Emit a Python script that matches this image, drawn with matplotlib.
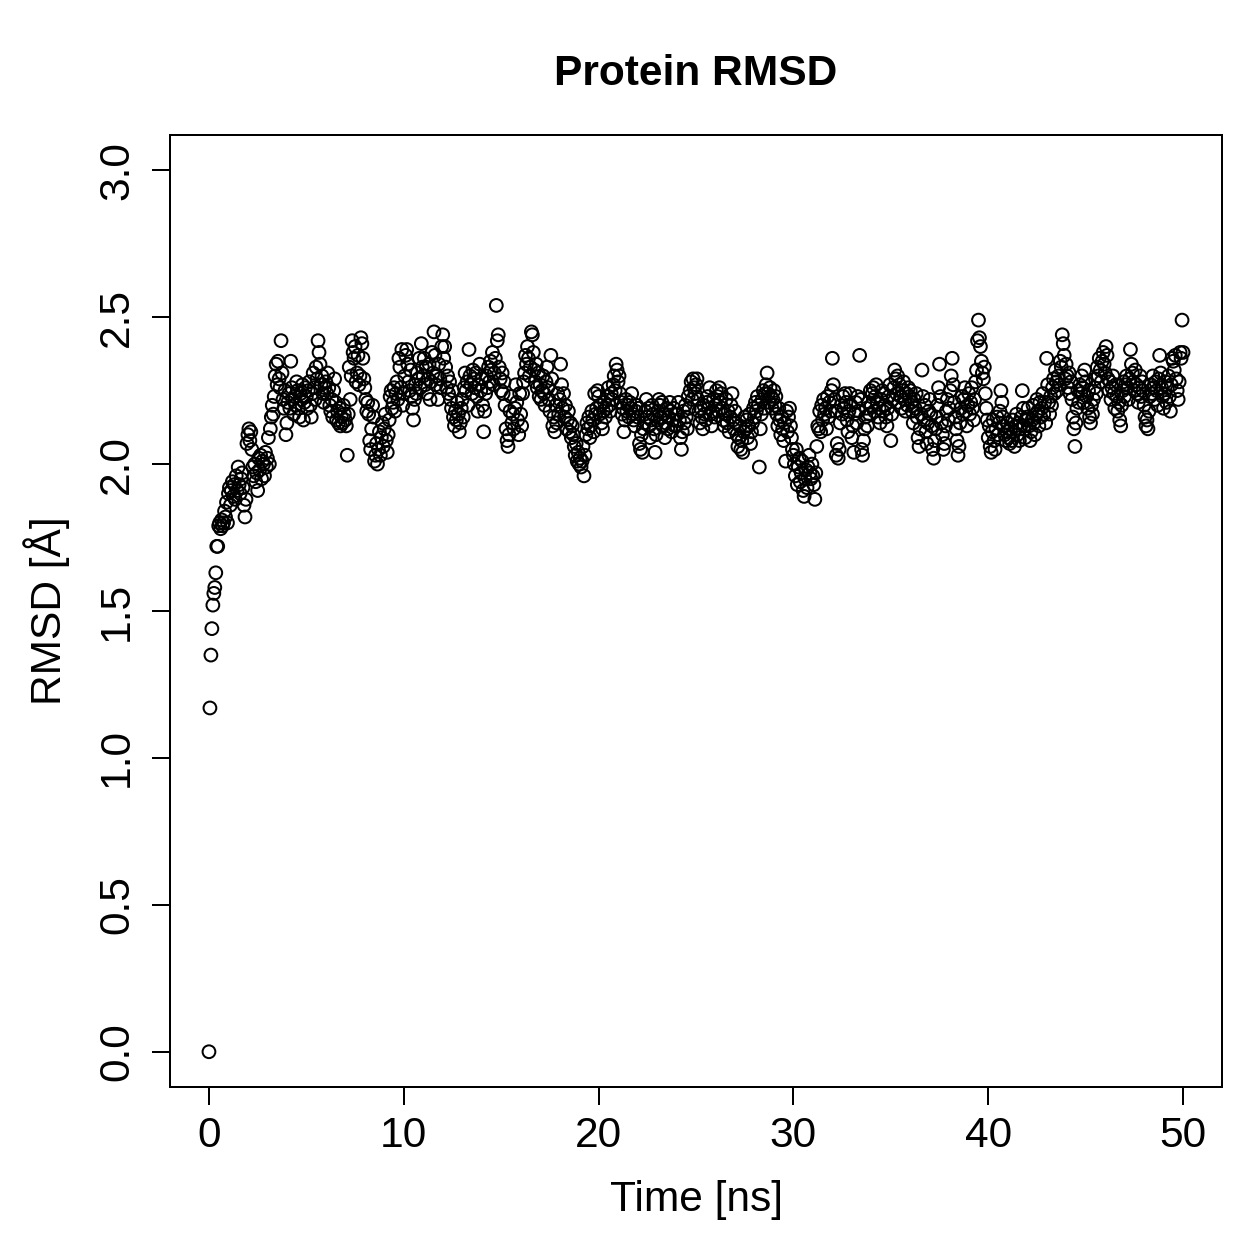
import numpy as np
import matplotlib
matplotlib.use("Agg")
import matplotlib.pyplot as plt

# RMSD values, 20 frames per ns (0.05 ns step)
rmsd_0_10 = [
    [0.00, 1.17, 1.35, 1.44, 1.52, 1.56, 1.58, 1.63, 1.72, 1.72, 1.79, 1.80, 1.78, 1.81, 1.79, 1.80, 1.84, 1.82, 1.87, 1.80],
    [1.90, 1.92, 1.86, 1.91, 1.94, 1.89, 1.93, 1.88, 1.96, 1.91, 1.99, 1.93, 1.90, 1.95, 1.97, 1.92, 1.86, 1.82, 1.88, 2.07],
    [2.10, 2.12, 2.08, 2.11, 2.05, 1.99, 1.96, 2.00, 1.94, 1.97, 1.91, 2.02, 1.98, 2.03, 1.95, 2.01, 2.00, 1.96, 2.04, 1.99],
    [2.02, 2.09, 2.00, 2.12, 2.16, 2.20, 2.17, 2.23, 2.30, 2.34, 2.27, 2.35, 2.29, 2.26, 2.42, 2.31, 2.22, 2.19, 2.25, 2.10],
    [2.14, 2.21, 2.24, 2.19, 2.35, 2.26, 2.22, 2.17, 2.23, 2.20, 2.28, 2.25, 2.19, 2.16, 2.24, 2.22, 2.27, 2.15, 2.21, 2.26],
    [2.23, 2.19, 2.25, 2.28, 2.20, 2.16, 2.24, 2.31, 2.26, 2.22, 2.33, 2.29, 2.42, 2.38, 2.34, 2.27, 2.30, 2.24, 2.21, 2.26],
    [2.28, 2.24, 2.31, 2.26, 2.20, 2.18, 2.22, 2.16, 2.25, 2.29, 2.21, 2.15, 2.18, 2.14, 2.19, 2.13, 2.16, 2.14, 2.20, 2.17],
    [2.15, 2.13, 2.03, 2.17, 2.33, 2.22, 2.30, 2.42, 2.38, 2.36, 2.40, 2.28, 2.31, 2.37, 2.27, 2.30, 2.43, 2.41, 2.36, 2.29],
    [2.26, 2.22, 2.18, 2.21, 2.17, 2.08, 2.05, 2.12, 2.20, 2.16, 2.01, 2.03, 2.07, 2.00, 2.05, 2.11, 2.03, 2.09, 2.14, 2.06],
    [2.12, 2.17, 2.08, 2.04, 2.10, 2.15, 2.23, 2.25, 2.19, 2.21, 2.26, 2.18, 2.24, 2.28, 2.22, 2.36, 2.33, 2.26, 2.39, 2.20],
]
rmsd_10_20 = [
    [2.24, 2.30, 2.37, 2.39, 2.34, 2.28, 2.25, 2.32, 2.23, 2.19, 2.15, 2.22, 2.27, 2.24, 2.31, 2.29, 2.36, 2.26, 2.41, 2.33],
    [2.30, 2.36, 2.27, 2.33, 2.24, 2.29, 2.34, 2.22, 2.28, 2.38, 2.31, 2.45, 2.37, 2.27, 2.30, 2.22, 2.34, 2.29, 2.26, 2.40],
    [2.44, 2.36, 2.40, 2.33, 2.26, 2.30, 2.24, 2.28, 2.22, 2.19, 2.25, 2.16, 2.13, 2.18, 2.15, 2.21, 2.17, 2.11, 2.14, 2.19],
    [2.22, 2.16, 2.26, 2.31, 2.25, 2.28, 2.20, 2.39, 2.30, 2.27, 2.24, 2.32, 2.29, 2.26, 2.31, 2.23, 2.18, 2.27, 2.34, 2.25],
    [2.29, 2.20, 2.11, 2.18, 2.24, 2.30, 2.26, 2.33, 2.28, 2.35, 2.32, 2.38, 2.27, 2.31, 2.36, 2.54, 2.42, 2.44, 2.33, 2.29],
    [2.25, 2.31, 2.24, 2.28, 2.20, 2.12, 2.08, 2.06, 2.10, 2.18, 2.23, 2.14, 2.17, 2.12, 2.19, 2.27, 2.21, 2.15, 2.10, 2.24],
    [2.17, 2.13, 2.24, 2.28, 2.31, 2.37, 2.34, 2.40, 2.36, 2.30, 2.33, 2.45, 2.44, 2.38, 2.32, 2.28, 2.34, 2.26, 2.31, 2.23],
    [2.27, 2.22, 2.25, 2.30, 2.24, 2.20, 2.28, 2.33, 2.26, 2.22, 2.18, 2.37, 2.29, 2.13, 2.16, 2.11, 2.20, 2.14, 2.24, 2.17],
    [2.22, 2.34, 2.27, 2.19, 2.24, 2.16, 2.20, 2.12, 2.15, 2.18, 2.11, 2.14, 2.09, 2.13, 2.10, 2.06, 2.03, 2.07, 2.01, 2.04],
    [2.00, 2.02, 1.99, 2.01, 2.06, 1.96, 2.03, 2.10, 2.14, 2.12, 2.16, 2.09, 2.13, 2.18, 2.15, 2.11, 2.24, 2.17, 2.19, 2.25],
]
rmsd_20_30 = [
    [2.23, 2.17, 2.20, 2.14, 2.12, 2.18, 2.21, 2.16, 2.19, 2.23, 2.26, 2.20, 2.18, 2.24, 2.22, 2.27, 2.30, 2.25, 2.34, 2.32],
    [2.28, 2.30, 2.24, 2.21, 2.17, 2.19, 2.11, 2.15, 2.22, 2.18, 2.20, 2.16, 2.21, 2.19, 2.24, 2.17, 2.15, 2.13, 2.18, 2.20],
    [2.16, 2.19, 2.07, 2.05, 2.10, 2.04, 2.12, 2.14, 2.18, 2.22, 2.16, 2.19, 2.13, 2.09, 2.15, 2.20, 2.17, 2.12, 2.04, 2.10],
    [2.15, 2.18, 2.22, 2.20, 2.16, 2.21, 2.13, 2.17, 2.09, 2.14, 2.19, 2.12, 2.16, 2.21, 2.18, 2.11, 2.15, 2.19, 2.13, 2.17],
    [2.13, 2.17, 2.21, 2.15, 2.09, 2.05, 2.11, 2.18, 2.14, 2.20, 2.16, 2.12, 2.23, 2.19, 2.25, 2.28, 2.22, 2.29, 2.26, 2.24],
    [2.27, 2.29, 2.22, 2.18, 2.14, 2.19, 2.16, 2.12, 2.20, 2.17, 2.15, 2.21, 2.23, 2.19, 2.26, 2.17, 2.13, 2.18, 2.22, 2.16],
    [2.20, 2.25, 2.23, 2.18, 2.26, 2.21, 2.24, 2.19, 2.15, 2.13, 2.17, 2.22, 2.14, 2.18, 2.11, 2.16, 2.20, 2.24, 2.15, 2.12],
    [2.18, 2.14, 2.10, 2.06, 2.09, 2.13, 2.05, 2.08, 2.04, 2.11, 2.16, 2.12, 2.15, 2.09, 2.13, 2.17, 2.07, 2.11, 2.14, 2.19],
    [2.16, 2.21, 2.18, 2.23, 2.20, 1.99, 2.12, 2.17, 2.22, 2.25, 2.19, 2.24, 2.27, 2.31, 2.24, 2.21, 2.26, 2.23, 2.19, 2.22],
    [2.25, 2.20, 2.23, 2.17, 2.13, 2.19, 2.15, 2.10, 2.16, 2.12, 2.08, 2.14, 2.01, 2.18, 2.11, 2.16, 2.19, 2.13, 2.09, 2.05],
]
rmsd_30_40 = [
    [2.03, 2.00, 1.96, 2.05, 1.93, 1.99, 2.02, 1.94, 1.97, 2.01, 1.91, 1.89, 1.95, 1.98, 1.92, 1.99, 2.03, 1.97, 1.95, 2.00],
    [1.96, 1.93, 1.88, 1.97, 2.06, 2.13, 2.12, 2.18, 2.11, 2.20, 2.15, 2.22, 2.17, 2.19, 2.12, 2.23, 2.16, 2.21, 2.18, 2.25],
    [2.36, 2.27, 2.22, 2.18, 2.03, 2.07, 2.02, 2.05, 2.14, 2.20, 2.17, 2.23, 2.19, 2.24, 2.21, 2.15, 2.11, 2.18, 2.24, 2.20],
    [2.09, 2.13, 2.04, 2.17, 2.21, 2.14, 2.23, 2.18, 2.37, 2.22, 2.05, 2.03, 2.08, 2.12, 2.16, 2.19, 2.13, 2.21, 2.17, 2.25],
    [2.20, 2.24, 2.26, 2.18, 2.23, 2.27, 2.21, 2.16, 2.19, 2.14, 2.22, 2.25, 2.18, 2.24, 2.20, 2.16, 2.13, 2.19, 2.23, 2.27],
    [2.08, 2.17, 2.22, 2.26, 2.32, 2.29, 2.24, 2.30, 2.21, 2.27, 2.23, 2.19, 2.25, 2.28, 2.22, 2.18, 2.24, 2.20, 2.26, 2.23],
    [2.25, 2.21, 2.18, 2.14, 2.22, 2.19, 2.24, 2.16, 2.09, 2.06, 2.12, 2.17, 2.32, 2.23, 2.15, 2.20, 2.11, 2.07, 2.14, 2.18],
    [2.22, 2.17, 2.13, 2.05, 2.02, 2.08, 2.12, 2.16, 2.20, 2.26, 2.34, 2.23, 2.14, 2.10, 2.05, 2.07, 2.13, 2.18, 2.22, 2.15],
    [2.19, 2.25, 2.30, 2.36, 2.27, 2.21, 2.16, 2.12, 2.08, 2.03, 2.06, 2.14, 2.19, 2.23, 2.17, 2.22, 2.26, 2.18, 2.13, 2.20],
    [2.24, 2.17, 2.21, 2.26, 2.19, 2.15, 2.22, 2.28, 2.32, 2.42, 2.49, 2.43, 2.40, 2.35, 2.31, 2.29, 2.33, 2.24, 2.19, 2.15],
]
rmsd_40_50 = [
    [2.09, 2.13, 2.06, 2.04, 2.11, 2.15, 2.08, 2.05, 2.12, 2.16, 2.10, 2.14, 2.18, 2.25, 2.21, 2.16, 2.13, 2.10, 2.08, 2.11],
    [2.14, 2.09, 2.07, 2.12, 2.08, 2.15, 2.11, 2.06, 2.13, 2.17, 2.10, 2.14, 2.08, 2.12, 2.16, 2.25, 2.19, 2.13, 2.09, 2.15],
    [2.16, 2.19, 2.13, 2.08, 2.11, 2.15, 2.20, 2.14, 2.10, 2.17, 2.22, 2.18, 2.13, 2.21, 2.16, 2.19, 2.24, 2.17, 2.21, 2.14],
    [2.36, 2.27, 2.21, 2.17, 2.23, 2.20, 2.26, 2.29, 2.24, 2.32, 2.28, 2.25, 2.30, 2.27, 2.35, 2.33, 2.44, 2.41, 2.37, 2.29],
    [2.34, 2.30, 2.26, 2.31, 2.24, 2.28, 2.22, 2.16, 2.12, 2.06, 2.14, 2.19, 2.25, 2.21, 2.27, 2.24, 2.30, 2.26, 2.21, 2.32],
    [2.28, 2.23, 2.19, 2.25, 2.16, 2.14, 2.20, 2.17, 2.22, 2.26, 2.29, 2.24, 2.33, 2.30, 2.36, 2.32, 2.28, 2.35, 2.38, 2.34],
    [2.31, 2.40, 2.37, 2.29, 2.25, 2.28, 2.22, 2.26, 2.30, 2.24, 2.19, 2.27, 2.23, 2.18, 2.21, 2.15, 2.13, 2.20, 2.25, 2.28],
    [2.23, 2.27, 2.30, 2.26, 2.22, 2.29, 2.39, 2.34, 2.31, 2.28, 2.25, 2.32, 2.27, 2.24, 2.21, 2.26, 2.30, 2.23, 2.28, 2.25],
    [2.20, 2.16, 2.13, 2.15, 2.12, 2.18, 2.23, 2.27, 2.24, 2.30, 2.26, 2.22, 2.28, 2.25, 2.20, 2.29, 2.37, 2.31, 2.26, 2.23],
    [2.19, 2.24, 2.28, 2.21, 2.26, 2.30, 2.23, 2.18, 2.27, 2.36, 2.35, 2.32, 2.37, 2.29, 2.25, 2.22, 2.28, 2.38, 2.36, 2.49],
]
rmsd_last = [2.38]

x_ticks = [0, 10, 20, 30, 40, 50]
y_ticks = [0.0, 0.5, 1.0, 1.5, 2.0, 2.5, 3.0]

rmsd = np.concatenate([np.ravel(rmsd_0_10), np.ravel(rmsd_10_20), np.ravel(rmsd_20_30),
                       np.ravel(rmsd_30_40), np.ravel(rmsd_40_50), rmsd_last])
time_ns = np.linspace(0, 50, len(rmsd))

plt.rcParams["font.family"] = ["Liberation Sans", "DejaVu Sans"]
FS = 17

fig = plt.figure(figsize=(1259 / 180, 1259 / 180), dpi=180)
ax = fig.add_axes([170 / 1259, 1 - 1087 / 1259, (1222 - 170) / 1259, (1087 - 135) / 1259])

ax.scatter(time_ns, rmsd, s=26, facecolors="none", edgecolors="black", linewidths=0.8)

ax.set_xlim(-2, 52)
ax.set_ylim(-0.12, 3.12)
ax.set_xticks(x_ticks)
ax.set_xticklabels([str(t) for t in x_ticks])
ax.set_yticks(y_ticks)
ax.set_yticklabels([f"{v:.1f}" for v in y_ticks], rotation=90, va="center")

for s in ax.spines.values():
    s.set_linewidth(0.8)
ax.tick_params(direction="out", length=7.2, width=0.8, labelsize=FS)
ax.tick_params(axis="x", pad=4.5)
ax.tick_params(axis="y", pad=6)

ax.set_title("Protein RMSD", fontweight="bold", fontsize=FS, pad=20)
ax.set_xlabel("Time [ns]", fontsize=FS)
ax.set_ylabel("RMSD [Å]", fontsize=FS)
ax.xaxis.set_label_coords(0.5, -0.098)
ax.yaxis.set_label_coords(-0.095, 0.5)

fig.savefig("out.png", dpi=180, facecolor="white")
